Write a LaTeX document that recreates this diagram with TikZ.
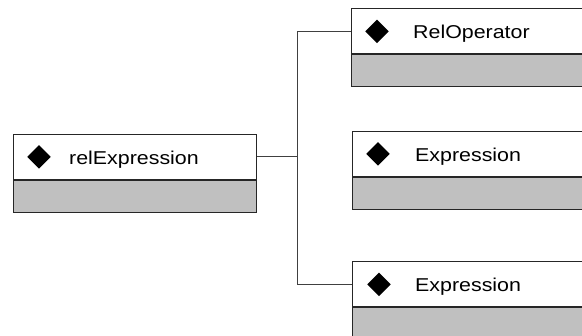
\documentclass[tikz,border=0pt]{standalone}
\usepackage{fontspec}
\setmainfont{Liberation Sans}[FakeStretch=1.15]
\usetikzlibrary{calc,shapes.geometric}
\definecolor{compartment}{HTML}{C0C0C0}
\tikzset{
  head/.style={draw=black!85, line width=0.8pt, fill=white, minimum height=45pt,
    inner sep=0pt, anchor=north west},
  body/.style={draw=black!85, line width=0.8pt, fill=compartment, minimum height=32pt,
    inner sep=0pt, anchor=north west},
  member/.style={diamond, fill=black, inner sep=0pt, minimum width=23.5pt, minimum height=23.5pt},
  classname/.style={inner sep=0pt, anchor=base west, font=\fontsize{18.6pt}{22pt}\selectfont},
  wire/.style={draw=black!75, line width=0.8pt}
}
\begin{document}
\begin{tikzpicture}[x=1pt, y=-1pt]
  \useasboundingbox (0,0) rectangle (582,336);
  \clip (0,0) rectangle (582,336);

  % source class
  \node[head, minimum width=243pt] (L) at (13,134) {};
  \node[body, minimum width=243pt] (Lb) at (L.south west) {};
  \node[member] (Ld) at ($(L.west)+(26,0)$) {};
  \node[classname] (Lt) at ($(L.west)+(56,7.5)$) {relExpression};

  % target classes (running past the right edge)
  \node[head, minimum width=260pt] (T) at (351,8.5) {};
  \node[body, minimum width=260pt] (Tb) at (T.south west) {};
  \node[member] (Td) at ($(T.west)+(26,0)$) {};
  \node[classname] (Tt) at ($(T.west)+(62,7.5)$) {RelOperator};

  \node[head, minimum width=260pt] (M) at (352,131) {};
  \node[body, minimum width=260pt] (Mb) at (M.south west) {};
  \node[member] (Md) at ($(M.west)+(26,0)$) {};
  \node[classname] (Mt) at ($(M.west)+(63,7.5)$) {Expression};

  \node[head, minimum width=260pt] (B) at (352,261.5) {};
  \node[body, minimum width=260pt] (Bb) at (B.south west) {};
  \node[member] (Bd) at ($(B.west)+(27,0)$) {};
  \node[classname] (Bt) at ($(B.west)+(63,7.5)$) {Expression};

  % branching connector
  \coordinate (j) at ($(L.east)+(41,0)$);
  \draw[wire] (L.east) -- (j);
  \draw[wire] (T.west) -| (j);
  \draw[wire] (B.west) -| (j);
\end{tikzpicture}
\end{document}
